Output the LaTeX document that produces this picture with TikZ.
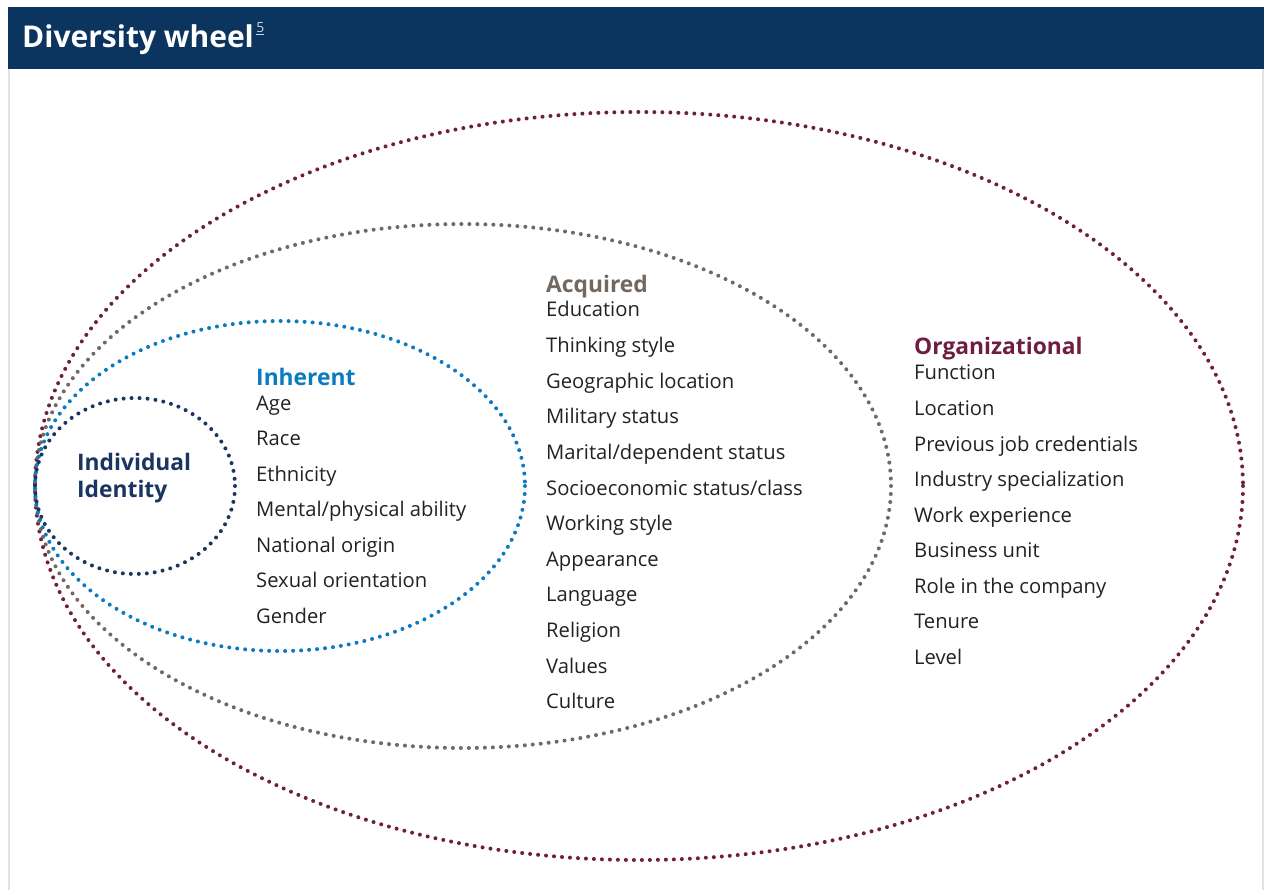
\documentclass[tikz,border=0pt]{standalone}
\usepackage{fontspec}
\setmainfont{Open Sans}
\definecolor{hdr}{HTML}{0B345E}
\definecolor{maroon}{HTML}{6E1F3F}
\definecolor{acqgray}{HTML}{736860}
\definecolor{inhblue}{HTML}{0A7BC1}
\definecolor{idnavy}{HTML}{1B3563}
\definecolor{txt}{HTML}{222222}
\definecolor{frame}{HTML}{E2E2E2}
\tikzset{
  dotted ring/.style={line width=4pt, dash pattern=on 0pt off 8pt, line cap=round},
  item/.style={anchor=base west, inner sep=0pt, text=txt, font=\fontsize{20.2}{22}\selectfont},
  head/.style={anchor=base west, inner sep=0pt, font=\fontsize{22.8}{25}\selectfont\bfseries},
}
\begin{document}
\begin{tikzpicture}[x=1pt,y=-1pt]
\useasboundingbox (0,0) rectangle (1266,890);
\fill[white] (0,0) rectangle (1266,890);
% frame
\fill[hdr] (8,7) rectangle (1264,69);
\draw[frame, line width=1.5pt] (9,69) -- (9,890);
\draw[frame, line width=1.5pt] (1263,69) -- (1263,890);
\node[anchor=base west, inner sep=0pt, text=white, font=\fontsize{30}{33}\selectfont\bfseries] (title) at (22,48) {Diversity wheel};
\node[anchor=base west, inner sep=0pt, text=white!80!hdr, font=\fontsize{14}{15}\selectfont] (fn) at (title.base east) [xshift=2pt, yshift=15pt] {\underline{5}};
% ellipses
\draw[dotted ring, maroon] (639,486) ellipse [x radius=604, y radius=374];
\draw[dotted ring, acqgray] (463,486) ellipse [x radius=428, y radius=262];
\draw[dotted ring, inhblue] (280,486) ellipse [x radius=245, y radius=165];
\draw[dotted ring, idnavy] (135,486) ellipse [x radius=100, y radius=88];
% individual identity
\node[head, text=idnavy] (ind1) at (77,470) {Individual};
\node[head, text=idnavy] (ind2) at (77,497.5) {Identity};
% inherent
\node[head, text=inhblue] (inh) at (256,385) {Inherent};
\foreach \t [count=\i from 0] in {Age,Race,Ethnicity,Mental/physical ability,National origin,Sexual orientation,Gender}
  \node[item] (inh\i) at (256,410+35.5*\i) {\t};
% acquired
\node[head, text=acqgray] (acq) at (546,293) {Acquired};
\foreach \t [count=\i from 0] in {Education,Thinking style,Geographic location,Military status,Marital/dependent status,Socioeconomic status/class,Working style,Appearance,Language,Religion,Values,Culture}
  \node[item] (acq\i) at (546,317+35.6*\i) {\t};
% organizational
\node[head, text=maroon] (org) at (914,355) {Organizational};
\foreach \t [count=\i from 0] in {Function,Location,Previous job credentials,Industry specialization,Work experience,Business unit,Role in the company,Tenure,Level}
  \node[item] (org\i) at (914,380+35.5*\i) {\t};
\end{tikzpicture}
\end{document}
